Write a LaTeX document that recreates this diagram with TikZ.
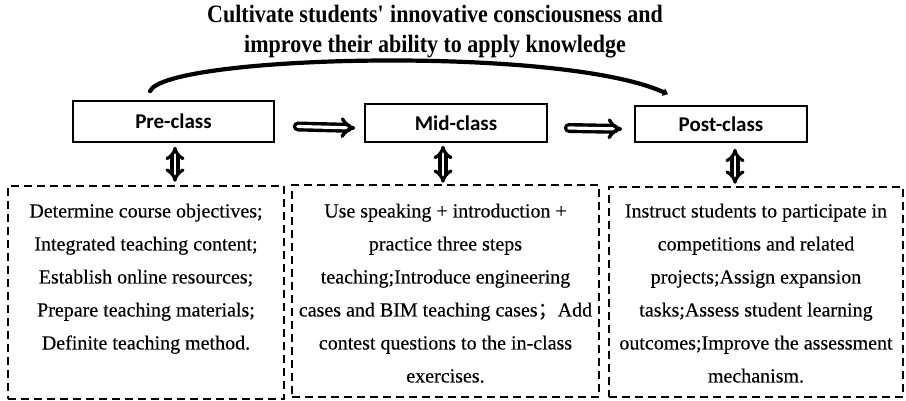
\documentclass[tikz,border=0pt]{standalone}
\usepackage{fontspec}
\setmainfont{Liberation Serif}
\newfontfamily\titlefont[FakeStretch=0.88]{Liberation Serif}
\newfontfamily\taskfont[FakeBold=0.3]{Liberation Serif}
\newfontfamily\labelfont{Carlito}
\newfontfamily\cjk[FakeBold=0.3]{Noto Sans CJK SC}
\usetikzlibrary{arrows.meta,calc}

\begin{document}
\begin{tikzpicture}[x=1pt,y=1pt,
  stagebox/.style={draw, line width=1.6pt, inner sep=0pt,
    font=\labelfont\bfseries\fontsize{21}{24}\selectfont},
  taskbox/.style={draw, dashed, dash pattern=on 8pt off 5pt, line width=1.6pt, inner sep=0pt},
  tasktext/.style={anchor=north, inner sep=0pt, align=center,
    font=\taskfont\fontsize{20}{33}\selectfont},
  flow/.style={line width=3.4pt, double distance=3.2pt, line cap=round, -{Implies}},
  link/.style={line width=3.2pt, double distance=2.8pt, {Implies}-{Implies}},
  goal/.style={line width=4.2pt, line cap=round, -{Triangle[length=5pt,width=8pt]}}
]
\useasboundingbox (0,0) rectangle (906,401);

% heading
\node[font=\titlefont\bfseries\fontsize{25}{30}\selectfont, align=center] (title) at (435,369)
  {Cultivate students\textquotesingle{} innovative consciousness and\\improve their ability to apply knowledge};

% the three stages
\node[stagebox, minimum width=201, minimum height=41] (pre)  at (173.5,279.5) {Pre-class};
\node[stagebox, minimum width=182, minimum height=38] (mid)  at (456,278)     {Mid-class};
\node[stagebox, minimum width=172, minimum height=36] (post) at (721,277)     {Post-class};

% task boxes
\node[taskbox, minimum width=276, minimum height=213] (b1) at (146,108.5) {};
\node[taskbox, minimum width=307, minimum height=212] (b2) at (445.5,110) {};
\node[taskbox, minimum width=294, minimum height=210] (b3) at (756,109)   {};

\node[tasktext] (t1) at ($(b1.north)+(0,-9)$) {\strut Determine course objectives;\\
  Integrated teaching content;\\Establish online resources;\\
  Prepare teaching materials;\\Definite teaching method.};
\node[tasktext] (t2) at ($(b2.north)+(0,-10)$) {\strut Use speaking + introduction +\\
  practice three steps\\teaching;Introduce engineering\\
  cases and BIM teaching cases{\cjk ；}Add\\contest questions to the in-class\\exercises.};
\node[tasktext] (t3) at ($(b3.north)+(0,-8)$) {\strut Instruct students to participate in\\
  competitions and related\\projects;Assign expansion\\
  tasks;Assess student learning\\outcomes;Improve the assessment\\mechanism.};

% stage sequence
\draw[flow] ($(pre.east)+(23,-5)$) -- ($(mid.west)+(-9,-5)$);
\draw[flow] ($(mid.east)+(21,-5)$) -- ($(post.west)+(-12,-5)$);

% stage to task links
\draw[link] ($(pre.south)+(1.5,-4)$) -- ($(pre.south)+(1.5,-39)$);
\draw[link] ($(mid.south)+(-13,-3)$) -- ($(mid.south)+(-13,-40)$);
\draw[link] ($(post.south)+(14,-6)$) -- ($(post.south)+(14,-41)$);

% overarching goal
\coordinate (gs) at ($(pre.north)+(-23.5,9)$);
\coordinate (ge) at ($(post.north)+(-53,11)$);
\draw[goal] (gs) .. controls ($(gs)+(15,36)$) and ($(ge)+(-108,49)$) .. (ge);
\end{tikzpicture}
\end{document}
